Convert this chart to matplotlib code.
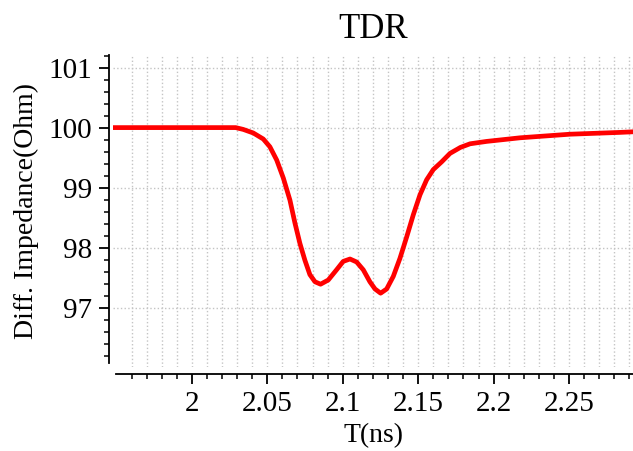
import numpy as np
import matplotlib
matplotlib.use('Agg')
import matplotlib.pyplot as plt
from matplotlib.ticker import FixedLocator, MultipleLocator

plt.rcParams['font.family'] = ['Liberation Serif', 'DejaVu Serif']

# ── Data ──────────────────────────────────────────────────────────────────────
t_ns = [1.9477, 2.000, 2.020, 2.029, 2.034, 2.0407, 2.0473, 2.0517, 2.0562,
        2.0606, 2.065, 2.0683, 2.0716, 2.0749, 2.0782, 2.0816, 2.0853, 2.0904,
        2.0959, 2.1003, 2.1048, 2.1092, 2.1136, 2.118, 2.1214, 2.1251, 2.1291,
        2.1335, 2.1379, 2.1424, 2.1468, 2.1512, 2.1556, 2.160, 2.1656, 2.1711,
        2.178, 2.1844, 2.1954, 2.2065, 2.2175, 2.2285, 2.2396, 2.2507, 2.2617,
        2.2728, 2.2838, 2.2924]
z_ohm = [100.01, 100.01, 100.01, 100.01, 99.98, 99.92, 99.82, 99.69, 99.47,
         99.17, 98.80, 98.42, 98.08, 97.80, 97.56, 97.44, 97.40, 97.47,
         97.64, 97.78, 97.82, 97.77, 97.64, 97.44, 97.32, 97.25, 97.32,
         97.53, 97.83, 98.19, 98.56, 98.89, 99.14, 99.31, 99.44, 99.58,
         99.68, 99.74, 99.78, 99.81, 99.84, 99.86, 99.88, 99.90, 99.91,
         99.92, 99.93, 99.94]

x_major = [2.0, 2.05, 2.1, 2.15, 2.2, 2.25]
x_labels = ['2', '2.05', '2.1', '2.15', '2.2', '2.25']
y_major = [97, 98, 99, 100, 101]
y_labels = ['97', '98', '99', '100', '101']

XMIN, XMAX = 1.9477, 2.2924
YMIN, YMAX = 96.02, 101.22

# ── Figure ────────────────────────────────────────────────────────────────────
W, H = 633, 451
fig = plt.figure(figsize=(W / 100, H / 100), dpi=100)
ax = fig.add_axes([113 / W, 1 - 367 / H, 520 / W, 312 / H])

ax.plot(t_ns, z_ohm, '-', color='#ff0000', linewidth=3.4, solid_capstyle='round',
        solid_joinstyle='round', zorder=3)

ax.set_xlim(XMIN, XMAX)
ax.set_ylim(YMIN, YMAX)

ax.xaxis.set_major_locator(FixedLocator(x_major))
ax.set_xticklabels(x_labels)
ax.xaxis.set_minor_locator(FixedLocator(np.round(np.arange(1.96, 2.2901, 0.01), 3)))
ax.yaxis.set_major_locator(FixedLocator(y_major))
ax.set_yticklabels(y_labels)
ax.yaxis.set_minor_locator(MultipleLocator(0.2))

ax.grid(True, which='minor', axis='x', color='#c4c4c4', linestyle=':', linewidth=1.0)
ax.grid(True, which='major', axis='x', color='#c4c4c4', linestyle=':', linewidth=1.0)
ax.grid(True, which='major', axis='y', color='#c4c4c4', linestyle=':', linewidth=1.0)

for s in ['top', 'right']:
    ax.spines[s].set_visible(False)
ax.spines['left'].set_position(('outward', 3))
ax.spines['bottom'].set_position(('outward', 5))
ax.spines['left'].set_bounds(96.09, YMAX)
ax.spines['bottom'].set_bounds(1.95, XMAX)
for s in ['left', 'bottom']:
    ax.spines[s].set_linewidth(1.3)

ax.tick_params(which='major', length=7, width=1.3, labelsize=21, pad=5)
ax.tick_params(which='minor', length=3.6, width=1.1)

ax.set_xlabel('T(ns)', fontsize=20, labelpad=5)
ax.set_ylabel('Diff. Impedance(Ohm)', fontsize=20, labelpad=7)
ax.set_title('TDR', fontsize=25, pad=12)

plt.savefig('out.png', dpi=100)
plt.close()
